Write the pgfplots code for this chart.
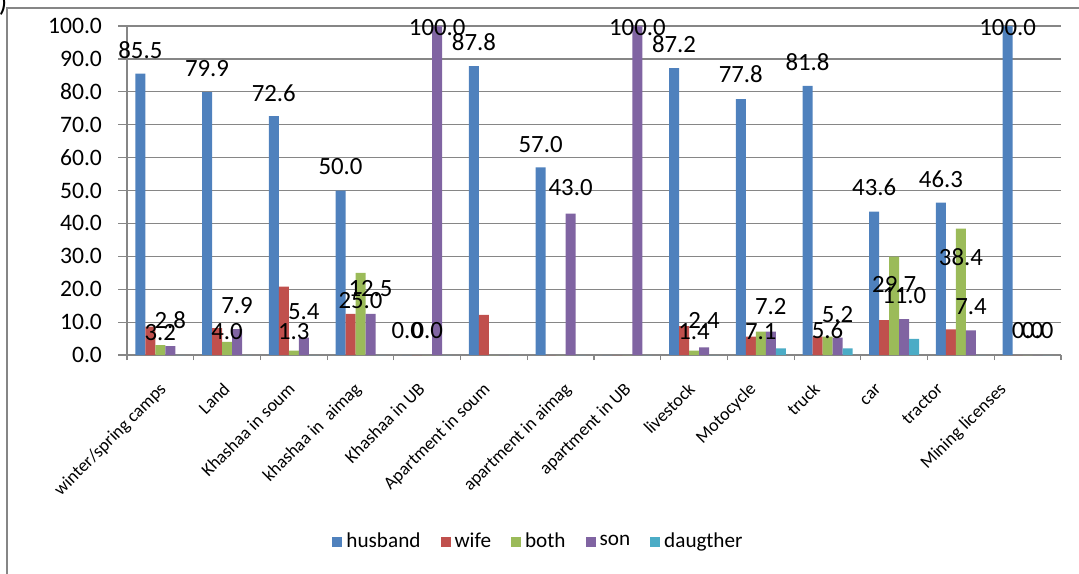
\documentclass[border=0pt]{standalone}
\usepackage{fontspec}
\setmainfont{Carlito}
\usepackage{pgfplots}
\pgfplotsset{compat=1.18}

\definecolor{husband}{HTML}{4F81BD}
\definecolor{wife}{HTML}{C0504D}
\definecolor{both}{HTML}{9BBB59}
\definecolor{son}{HTML}{8064A2}
\definecolor{daugther}{HTML}{4BACC6}
\definecolor{gridgray}{RGB}{134,134,134}

\pgfplotsset{
  sq/.style={fill=#1, draw=none,
    legend image code/.code={\fill[##1] (0pt,-2.5pt) rectangle (5pt,2.5pt);}},
}

\begin{document}
\begin{tikzpicture}
\useasboundingbox (-63.5pt,-109pt) rectangle (476pt,177.5pt);
\draw[gridgray, line width=1pt] (-60pt,-115pt) -- (-60pt,173.5pt) -- (480pt,173.5pt);
\node[font=\fontsize{14}{14}\selectfont] at (-62pt,176pt) {)};
\begin{axis}[
    at={(0pt,0pt)}, anchor=south west,
    scale only axis, width=467pt, height=164.5pt,
    ybar=0pt, bar width=5pt,
    ymin=0, ymax=100, ytick={0,10,...,100},
    xmin=-0.5, xmax=13.5,
    % label ends sit where the original puts them, not quite at the centres
    xtick={-0.035,0.924,1.898,2.888,3.847,4.822,6.036,6.935,7.894,8.809,9.768,10.683,11.612,12.557},
    xticklabels={winter/spring camps, Land, Khashaa in soum, khashaa in\ \ aimag,
      Khashaa in UB, Apartment in soum, apartment in aimag, apartment in UB,
      livestock, Motocycle, truck, car, tractor, Mining licenses},
    minor xtick={-0.5,0.5,...,13.5},
    axis x line*=bottom, axis y line*=left,
    axis line style={gridgray, line width=0.6pt, -},
    tick align=outside,
    major tick length=4.5pt, minor tick length=2.5pt,
    tick style={gridgray, line width=0.6pt},
    x tick style={draw=none},
    minor x tick style={draw=gridgray, line width=0.6pt},
    ymajorgrids, grid style={gridgray, line width=0.6pt},
    yticklabel style={font=\fontsize{11.8}{13}\selectfont, xshift=-4.5pt,
      /pgf/number format/.cd, fixed, fixed zerofill, precision=1, assume math mode=true},
    % shifts act in the rotated frame: equal x/y shifts move the label straight down
    xticklabel style={font=\fontsize{9}{11}\selectfont, rotate=45, anchor=north east,
      inner sep=0pt, text height=1.3ex, text depth=0.3ex, xshift=-6pt, yshift=-6pt},
    clip=false,
    legend columns=5,
    legend style={at={(0.4416,-0.568)}, anchor=center, draw=none, fill=none,
      font=\fontsize{10.6}{12}\selectfont,
      /tikz/every even column/.append style={column sep=8pt}},
  ]
  \addplot[sq=husband] coordinates {(0,85.5) (1,79.9) (2,72.6) (3,50.0) (4,0) (5,87.8) (6,57.0) (7,0) (8,87.2) (9,77.8) (10,81.8) (11,43.6) (12,46.3) (13,100)};
  \addlegendentry{husband}
  \addplot[sq=wife] coordinates {(0,8.6) (1,8.2) (2,20.8) (3,12.5) (4,0) (5,12.2) (6,0) (7,0) (8,8.8) (9,5.6) (10,5.6) (11,10.6) (12,7.8) (13,0)};
  \addlegendentry{wife}
  \addplot[sq=both] coordinates {(0,3.0) (1,4.0) (2,1.3) (3,25.0) (4,0) (5,0) (6,0) (7,0) (8,1.3) (9,7.1) (10,5.6) (11,29.9) (12,38.4) (13,0)};
  \addlegendentry{both}
  \addplot[sq=son] coordinates {(0,2.7) (1,7.9) (2,5.3) (3,12.5) (4,100) (5,0) (6,43.0) (7,100) (8,2.3) (9,7.1) (10,5.3) (11,10.9) (12,7.5) (13,0)};
  \addlegendentry{son}
  \addplot[sq=daugther] coordinates {(0,0) (1,0) (2,0) (3,0) (4,0) (5,0) (6,0) (7,0) (8,0) (9,2.0) (10,2.0) (11,4.9) (12,0) (13,0)};
  \addlegendentry{daugther}

  % data labels as they sit in the original
  \begin{scope}[every node/.style={font=\fontsize{12.4}{13}\selectfont, inner sep=0pt}]
  \node at (axis cs:-0.3,92.7) {85.5};
  \node at (axis cs:0.7,87.2) {79.9};
  \node at (axis cs:1.7,79.6) {72.6};
  \node at (axis cs:2.7,57.4) {50.0};
  \node at (axis cs:4.15,99.5) {100.0};
  \node at (axis cs:4.7,95.0) {87.8};
  \node at (axis cs:5.7,64.0) {57.0};
  \node at (axis cs:6.15,50.8) {43.0};
  \node at (axis cs:7.15,99.5) {100.0};
  \node at (axis cs:7.7,94.5) {87.2};
  \node at (axis cs:8.7,85.4) {77.8};
  \node at (axis cs:9.7,88.9) {81.8};
  \node at (axis cs:10.7,50.9) {43.6};
  \node at (axis cs:11.7,53.3) {46.3};
  \node at (axis cs:12.7,99.5) {100.0};
  \node at (axis cs:0,6.8) {3.2};
  \node at (axis cs:0.15,10.5) {2.8};
  \node at (axis cs:1,7.0) {4.0};
  \node at (axis cs:1.15,14.9) {7.9};
  \node at (axis cs:2,7.0) {1.3};
  \node at (axis cs:2.15,13.1) {5.4};
  \node at (axis cs:3,16.7) {25.0};
  \node at (axis cs:3.15,20.1) {12.5};
  \node at (axis cs:3.7,7.3) {0.0};
  \node at (axis cs:4,7.3) {0.0};
  \node at (axis cs:8,7.0) {1.4};
  \node at (axis cs:8.15,10.6) {2.4};
  \node at (axis cs:9,7.0) {7.1};
  \node at (axis cs:9.15,14.6) {7.2};
  \node at (axis cs:10,7.4) {5.6};
  \node at (axis cs:10.15,12.3) {5.2};
  \node at (axis cs:11,21.3) {29.7};
  \node at (axis cs:11.15,18.2) {11.0};
  \node at (axis cs:12,29.8) {38.4};
  \node at (axis cs:12.15,14.6) {7.4};
  \node at (axis cs:13,7.3) {0.0};
  \node at (axis cs:13.15,7.3) {0.0};
  \end{scope}
\end{axis}
\end{tikzpicture}
\end{document}
